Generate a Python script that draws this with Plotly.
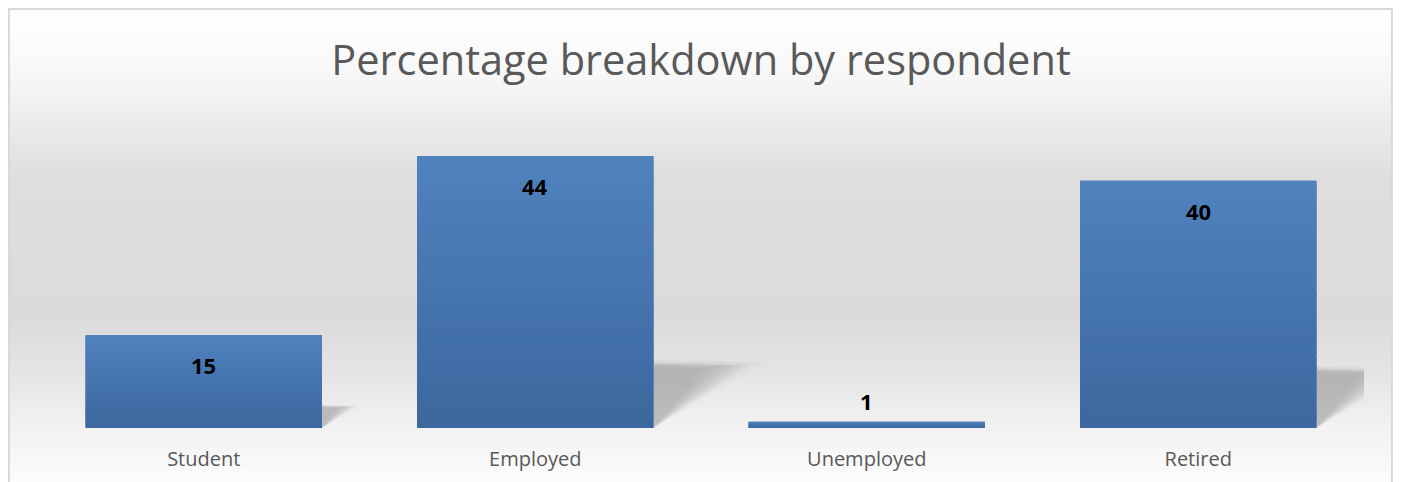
import plotly.graph_objects as go

categories = ["Student", "Employed", "Unemployed", "Retired"]
values = [15, 44, 1, 40]
title_text = "Percentage breakdown by respondent"

# the page body adds an 8px offset; all page-pixel positions below are converted
OFF = 8
W, H = 1395, 474
PAGE_LEFT, PAGE_RIGHT, PAGE_TOP, PAGE_BASE = 38, 1364, 119, 428
ML = PAGE_LEFT - OFF
MR = W - (PAGE_RIGHT - OFF)
MT = PAGE_TOP - OFF
MB = H - (PAGE_BASE - OFF)
PW = W - ML - MR
PH = H - MT - MB
YMAX = 50


def px_x(x):  # page pixel -> paper fraction
    return (x - OFF - ML) / PW


def px_y(y):
    return (PAGE_BASE - y) / PH


# background gradient stops (page pixel y, grey level)
stops = [(0, 255), (8, 254), (40, 252), (80, 246), (120, 236), (180, 222), (320, 219), (370, 228), (420, 240), (482, 252)]


def grey_at(y):
    for (y0, g0), (y1, g1) in zip(stops[:-1], stops[1:]):
        if y0 <= y <= y1:
            t = (y - y0) / (y1 - y0) if y1 > y0 else 0
            return round(g0 + (g1 - g0) * t)
    return stops[-1][1]


shapes = []
band = 2
y = 9
while y < 482:
    g = grey_at(y + band / 2)
    shapes.append(dict(type="rect", xref="paper", yref="paper",
                       x0=px_x(9.5), x1=px_x(1392), y0=px_y(y + band + 1.5), y1=px_y(y),
                       fillcolor=f"rgb({g},{g},{g})", line=dict(width=0), layer="below"))
    y += band

# frame border
shapes.append(dict(type="rect", xref="paper", yref="paper",
                   x0=px_x(9), x1=px_x(1392), y0=px_y(500), y1=px_y(9),
                   fillcolor="rgba(0,0,0,0)", line=dict(color="#d9d9d9", width=2), layer="below"))

BAR_W = 0.713
xs = list(range(len(categories)))
px_per_unit_x = PW / len(categories)
px_per_unit_y = PH / YMAX

# soft perspective shadows behind bars, derived from the bar values
for i, v in zip(xs, values):
    if v < 5:
        continue
    h_base = 0.24 * v
    w_base = 1.45 * (h_base * px_per_unit_y) / px_per_unit_x
    x0 = i + BAR_W / 2
    layers = [(1.05, 1.2, 0.02), (1.03, 1.05, 0.03), (1.0, 0.95, 0.04), (0.99, 0.85, 0.04),
              (0.98, 0.75, 0.035), (0.96, 0.65, 0.03), (0.94, 0.55, 0.025)]
    for hs, ws, alpha in layers:
        h = h_base * hs
        w = w_base * ws
        shapes.append(dict(
            type="path", xref="x", yref="y",
            path=f"M {x0},0 L {x0},{h} L {x0 + w},{h * 0.97} Z",
            fillcolor=f"rgba(0,0,0,{alpha})", line=dict(width=0), layer="below",
        ))

# vertical colour gradient over each bar (top lighter, bottom darker)
TOP_C = (80, 130, 190)
BOT_C = (60, 103, 158)
N = 30
for i, v in zip(xs, values):
    for k in range(N):
        t = (k + 0.5) / N
        c = tuple(round(BOT_C[j] + (TOP_C[j] - BOT_C[j]) * t) for j in range(3))
        ya = v * k / N
        yb = min(v, v * (k + 1.6) / N)
        shapes.append(dict(
            type="rect", xref="x", yref="y",
            x0=i - BAR_W / 2, x1=i + BAR_W / 2, y0=ya, y1=yb,
            fillcolor=f"rgb{c}", line=dict(width=0), layer="above",
        ))

fig = go.Figure()
fig.add_trace(go.Bar(
    x=xs, y=values, width=BAR_W,
    marker=dict(color="#4674ad", line=dict(width=0)),
    hovertext=categories, hoverinfo="text+y",
))

annotations = []
for i, v in zip(xs, values):
    inside = v >= 5
    annotations.append(dict(
        x=i, y=v, xref="x", yref="y", text=f"<b>{v}</b>", showarrow=False,
        yshift=-30 if inside else 21,
        font=dict(family="Open Sans", size=22, color="black"),
    ))

fig.update_layout(
    width=W, height=H,
    margin=dict(l=ML, r=MR, t=MT, b=MB, pad=0, autoexpand=False),
    paper_bgcolor="white", plot_bgcolor="rgba(0,0,0,0)",
    showlegend=False,
    title=dict(text=title_text, x=0.5, xanchor="center", xref="paper",
               y=1 - (60 - OFF) / H, yanchor="middle",
               font=dict(family="Open Sans", size=41.5, color="#595959")),
    xaxis=dict(showgrid=False, showline=False, zeroline=False, ticks="",
               automargin=False,
               tickmode="array", tickvals=xs, ticktext=categories,
               range=[-0.5, len(categories) - 0.5],
               ticklabelstandoff=17,
               tickfont=dict(family="Open Sans", size=20, color="#595959")),
    yaxis=dict(range=[0, YMAX], visible=False, automargin=False),
    shapes=shapes,
    annotations=annotations,
)

fig.write_html("out.html")
